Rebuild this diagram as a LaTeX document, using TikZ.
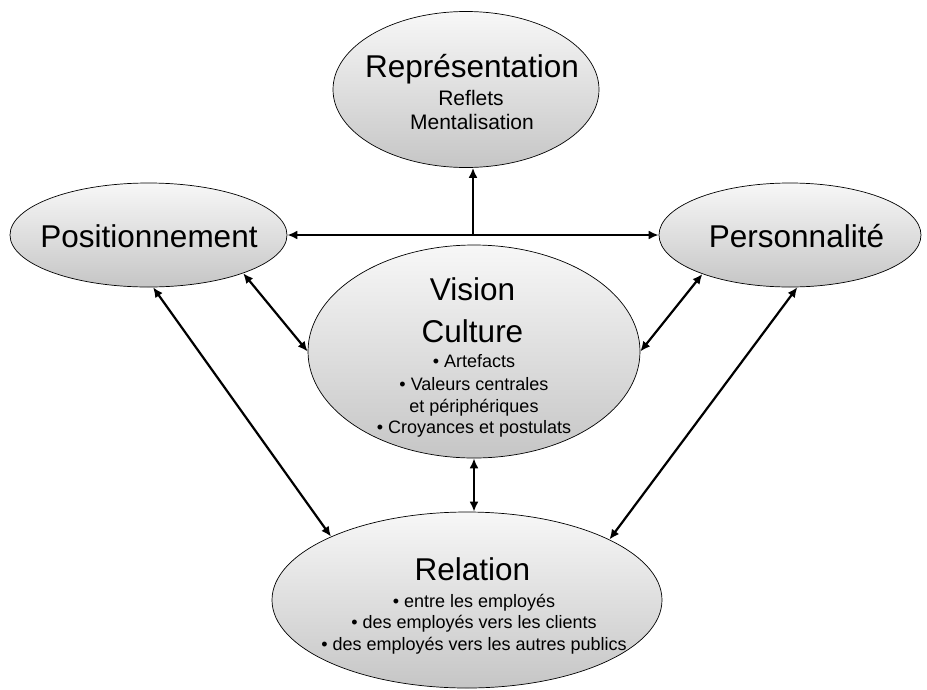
\documentclass[tikz,border=0pt]{standalone}
\usepackage{fontspec}
\setmainfont{Liberation Sans}
\usetikzlibrary{shapes,arrows.meta}

\begin{document}
\begin{tikzpicture}[x=1pt,y=-1pt,
    bulle/.style={ellipse,draw,line width=0.7pt,top color=gray!6,bottom color=gray!45,inner sep=0pt},
    titre/.style={anchor=base,inner sep=0pt,font=\fontsize{31.5}{36}\selectfont},
    ligne/.style={anchor=base,inner sep=0pt,font=\fontsize{18}{21}\selectfont},
    lien/.style={line width=2.2pt,{Latex[length=10pt,width=9pt]}-{Latex[length=10pt,width=9pt]}}]
  \useasboundingbox (0,0) rectangle (927,689);

  \node[bulle,minimum width=266,minimum height=156] at (466,89.5) (rep) {};
  \node[bulle,minimum width=277,minimum height=104] at (148.5,235) (pos) {};
  \node[bulle,minimum width=262,minimum height=104] at (790,235) (pers) {};
  \node[bulle,minimum width=332,minimum height=213] at (474,351.5) (vis) {};
  \node[bulle,minimum width=390,minimum height=176] at (467,600) (rel) {};

  % textes
  \node[titre] at (472,77) (reptitre) {Représentation};
  \node[ligne,font=\fontsize{21}{24}\selectfont] at (471,105) (reflets) {Reflets};
  \node[ligne,font=\fontsize{21}{24}\selectfont] at (472,129.5) (mental) {Mentalisation};
  \node[titre] at (149,247) (postitre) {Positionnement};
  \node[titre] at (796.5,247) (perstitre) {Personnalité};
  \node[titre] at (472.5,300) (vistitre) {Vision};
  \node[titre] at (472.5,342) (culture) {Culture};
  \foreach \texte/\y [count=\i] in {• Artefacts/367, • Valeurs centrales/390, et périphériques/412, • Croyances et postulats/433}
    \node[ligne] at (474,\y) (vis\i) {\texte};
  \node[titre] at (472.5,580) (reltitre) {Relation};
  \foreach \texte/\y [count=\i] in {• entre les employés/607, • des employés vers les clients/628.5, • des employés vers les autres publics/650}
    \node[ligne] at (474,\y) (rel\i) {\texte};

  % liens
  \coordinate (jonction) at (473,235);
  \draw[lien] (pos.east) -- (pers.west);
  \draw[line width=2.2pt,-{Latex[length=10pt,width=9pt]}] (jonction) -- (jonction |- rep.south);
  \draw[lien] (pos.-22) -- (vis.west);
  \draw[lien] (pers.204) -- (vis.east);
  \draw[lien] (pos.-85) -- (rel.155);
  \draw[lien] (pers.-82) -- (rel.23);
  \draw[lien] (vis.south) -- (vis.south |- rel.north);
\end{tikzpicture}
\end{document}
